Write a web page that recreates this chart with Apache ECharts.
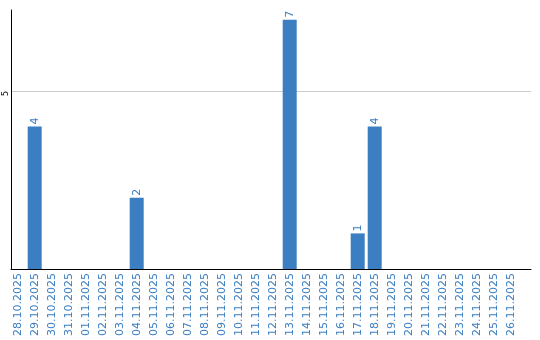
<!DOCTYPE html>
<html><head><meta charset="utf-8">
<script src="https://cdn.jsdelivr.net/npm/echarts@6/dist/echarts.min.js"></script>
<style>html,body{margin:0;padding:0;background:#fff}#c{width:540px;height:340px}</style>
</head><body><div id="c"></div>
<script>
const categories = ["28.10.2025","29.10.2025","30.10.2025","31.10.2025","01.11.2025","02.11.2025","03.11.2025","04.11.2025","05.11.2025","06.11.2025","07.11.2025","08.11.2025","09.11.2025","10.11.2025","11.11.2025","12.11.2025","13.11.2025","14.11.2025","15.11.2025","16.11.2025","17.11.2025","18.11.2025","19.11.2025","20.11.2025","21.11.2025","22.11.2025","23.11.2025","24.11.2025","25.11.2025","26.11.2025"];
const values = [0,4,0,0,0,0,0,2,0,0,0,0,0,0,0,0,7,0,0,0,1,4,0,0,0,0,0,0,0,0];
const yTicks = [5];
const yMax = 7.275;
const blue = '#3b7ec2';
const chart = echarts.init(document.getElementById('c'), null, {renderer:'canvas'});
chart.setOption({
  animation:false,
  grid:[
    {left:9.2, right:20.8, top:10, bottom:71},
    {left:11, right:9, top:10, bottom:71}
  ],
  xAxis:[
    {type:'category', gridIndex:0, data:categories, axisLine:{show:false}, axisTick:{show:false},
     axisLabel:{interval:0, rotate:90, color:blue, fontFamily:'DejaVu Sans', fontSize:11, margin:4}},
    {type:'value', gridIndex:1, min:0, max:1, axisLine:{show:true, lineStyle:{color:'#000', width:1}},
     axisTick:{show:false}, axisLabel:{show:false}, splitLine:{show:false}}
  ],
  yAxis:[
    {type:'value', gridIndex:0, min:0, max:yMax, show:false},
    {type:'value', gridIndex:1, min:0, max:yMax, interval:5,
     axisLine:{show:true, lineStyle:{color:'#000', width:1}}, axisTick:{show:false},
     axisLabel:{rotate:90, fontSize:8, color:'#000', fontFamily:'DejaVu Sans', margin:5,
       align:'right', verticalAlign:'middle',
       formatter:v => yTicks.includes(v) ? String(v) : ''},
     splitLine:{show:true, showMaxLine:false, showMinLine:false, lineStyle:{color:'#cccccc', width:1}}}
  ],
  series:[{
    type:'bar', xAxisIndex:0, yAxisIndex:0, data:values.map(v => v===0 ? null : v), barWidth:14,
    itemStyle:{color:blue},
    label:{show:true, position:'top', rotate:90, align:'left', verticalAlign:'middle', distance:2,
      color:blue, fontFamily:'DejaVu Sans', fontSize:11}
  }]
});
</script></body></html>
